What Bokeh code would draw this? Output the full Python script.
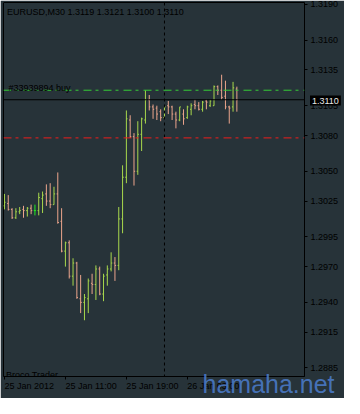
from bokeh.plotting import figure
from bokeh.models import (Range1d, FixedTicker, Span, Label, PrintfTickFormatter,
                          ColumnDataSource, InlineStyleSheet, Title)
from bokeh.embed import file_html
from bokeh.resources import INLINE

# ---------------- data ----------------
symbol = "EURUSD,M30"
ticket = "33939894"
broker = "Broco Trader"
watermark = "hamaha.net"

time_tick_index = [0, 16, 32, 48]
time_tick_labels = ["25 Jan 2012", "25 Jan 11:00", "25 Jan 19:00", "26 Jan 03:00"]
day_separator_index = 42  # 26 Jan 00:00

price_ticks = [1.3190, 1.3160, 1.3135, 1.3105, 1.3080, 1.3050,
               1.3025, 1.2995, 1.2970, 1.2940, 1.2915, 1.2885]

buy_price = 1.3118
stop_loss = 1.3078

opens = [1.3021, 1.3023, 1.3018, 1.3011, 1.3016, 1.3018, 1.3017, 1.3019, 1.3017, 1.3017,
         1.3027, 1.3031, 1.3025, 1.3022, 1.3031, 1.3008, 1.2983, 1.2990, 1.2962, 1.2973,
         1.2943, 1.2940, 1.2943, 1.2956, 1.2955, 1.2968, 1.2947, 1.2963, 1.2968, 1.2973,
         1.2971, 1.3010, 1.3045, 1.3093, 1.3079, 1.3050, 1.3081, 1.3093, 1.3110, 1.3104,
         1.3103, 1.3100, 1.3095, 1.3105, 1.3104, 1.3098, 1.3093, 1.3098, 1.3095, 1.3102,
         1.3106, 1.3105, 1.3102, 1.3109, 1.3105, 1.3105, 1.3121, 1.3118, 1.3113, 1.3104,
         1.3104, 1.3119]
highs = [1.3031, 1.3030, 1.3019, 1.3019, 1.3020, 1.3021, 1.3020, 1.3022, 1.3022, 1.3032,
         1.3033, 1.3039, 1.3040, 1.3037, 1.3049, 1.3019, 1.2991, 1.2992, 1.2977, 1.2974,
         1.2963, 1.2947, 1.2960, 1.2964, 1.2971, 1.2970, 1.2964, 1.2971, 1.2982, 1.2978,
         1.3020, 1.3055, 1.3101, 1.3097, 1.3082, 1.3092, 1.3095, 1.3118, 1.3114, 1.3106,
         1.3105, 1.3102, 1.3105, 1.3109, 1.3105, 1.3100, 1.3104, 1.3102, 1.3105, 1.3107,
         1.3110, 1.3108, 1.3109, 1.3110, 1.3110, 1.3122, 1.3122, 1.3131, 1.3126, 1.3105,
         1.3125, 1.3121]
lows = [1.3018, 1.3017, 1.3010, 1.3010, 1.3014, 1.3011, 1.3012, 1.3014, 1.3013, 1.3013,
        1.3015, 1.3021, 1.3019, 1.3022, 1.3006, 1.2982, 1.2970, 1.2960, 1.2954, 1.2943,
        1.2931, 1.2925, 1.2931, 1.2947, 1.2942, 1.2946, 1.2941, 1.2954, 1.2966, 1.2958,
        1.2967, 1.2998, 1.3040, 1.3078, 1.3038, 1.3047, 1.3067, 1.3090, 1.3101, 1.3094,
        1.3093, 1.3092, 1.3094, 1.3098, 1.3093, 1.3086, 1.3092, 1.3089, 1.3094, 1.3097,
        1.3102, 1.3101, 1.3100, 1.3102, 1.3104, 1.3105, 1.3114, 1.3110, 1.3102, 1.3090,
        1.3100, 1.3100]
closes = [1.3024, 1.3018, 1.3011, 1.3016, 1.3017, 1.3017, 1.3019, 1.3017, 1.3017, 1.3028,
          1.3030, 1.3025, 1.3022, 1.3031, 1.3007, 1.2983, 1.2990, 1.2962, 1.2973, 1.2944,
          1.2940, 1.2944, 1.2958, 1.2955, 1.2968, 1.2947, 1.2962, 1.2968, 1.2973, 1.2971,
          1.3010, 1.3045, 1.3094, 1.3079, 1.3050, 1.3081, 1.3094, 1.3110, 1.3104, 1.3102,
          1.3098, 1.3095, 1.3104, 1.3104, 1.3098, 1.3093, 1.3104, 1.3094, 1.3104, 1.3105,
          1.3105, 1.3102, 1.3108, 1.3108, 1.3109, 1.3121, 1.3118, 1.3112, 1.3104, 1.3103,
          1.3120, 1.3110]

# ---------------- styles ----------------
BG = "#273339"
UP = "#a8d84c"
DOWN = "#eca58c"
DOJI = "#22ee22"
FONT = "Liberation Sans"
FS = "9px"

idx = list(range(len(opens)))
colors = [UP if c > o else (DOWN if c < o else DOJI) for o, c in zip(opens, closes)]
tick_w = 0.3
src = ColumnDataSource(dict(
    x=idx, xl=[i - tick_w for i in idx], xr=[i + tick_w for i in idx],
    o=opens, h=highs, l=lows, c=closes, color=colors))

W, H = 344, 398
LB, RB, TB, BB = 3, 40, 2, 20
FW, FH = W - LB - RB, H - TB - BB
Y0, Y1 = 1.28778, 1.31916

p = figure(width=W, height=H, x_range=Range1d(-0.25, 78.75), y_range=Range1d(Y0, Y1),
           y_axis_location="right", output_backend="svg", toolbar_location=None,
           min_border_left=LB, min_border_right=RB, min_border_top=TB, min_border_bottom=BB,
           background_fill_color=BG, border_fill_color=BG,
           outline_line_color="black", outline_line_width=1)
p.stylesheets = [InlineStyleSheet(css="svg, svg * { shape-rendering: crispEdges; }")]
p.xgrid.visible = False
p.ygrid.visible = False

p.segment(x0="x", y0="l", x1="x", y1="h", line_color="color", line_width=1, source=src)
p.segment(x0="xl", y0="o", x1="x", y1="o", line_color="color", line_width=1, source=src)
p.segment(x0="x", y0="c", x1="xr", y1="c", line_color="color", line_width=1, source=src)

# axes
xa = p.xaxis[0]
xa.ticker = FixedTicker(ticks=time_tick_index)
xa.major_label_overrides = {t: s for t, s in zip(time_tick_index, time_tick_labels)}
xa.major_label_orientation = -0.0001   # labels start at their tick (MT4 style)
ya = p.yaxis[0]
ya.ticker = FixedTicker(ticks=price_ticks)
ya.formatter = PrintfTickFormatter(format="%.4f")
for ax in (xa, ya):
    ax.axis_line_color = "black"
    ax.major_tick_line_color = "black"
    ax.minor_tick_line_color = None
    ax.major_tick_out = 3
    ax.major_tick_in = 0
    ax.major_label_text_color = "black"
    ax.major_label_text_font = FONT
    ax.major_label_text_font_size = FS
xa.major_label_standoff = 6
ya.major_label_standoff = 3

# horizontal levels and day separator
p.add_layout(Span(location=day_separator_index, dimension="height", line_color="black",
                  line_dash="3 3", line_width=1))
p.add_layout(Span(location=buy_price, dimension="width", line_color="#35cc35",
                  line_dash="8 4 3 5", line_width=1))
p.add_layout(Span(location=stop_loss, dimension="width", line_color="#ee1c1c",
                  line_dash="8 4 3 5", line_width=1))
p.add_layout(Span(location=closes[-1], dimension="width", line_color="black", line_width=1))

# texts inside the chart
header = f"{symbol}  {opens[-1]:.4f} {highs[-1]:.4f} {lows[-1]:.4f} {closes[-1]:.4f}"
p.add_layout(Label(x=3.4, y=FH - 11.5, x_units="screen", y_units="screen", text=header,
                   text_font=FONT, text_font_size=FS, text_color="black",
                   text_baseline="alphabetic"))
p.add_layout(Label(x=5, y=buy_price, x_units="screen", y_units="data", y_offset=2.5,
                   text=f"#{ticket} buy", text_font=FONT, text_font_size=FS,
                   text_color="black", text_baseline="alphabetic"))
p.add_layout(Label(x=2.4, y=1.6, x_units="screen", y_units="screen", text=broker,
                   text_font=FONT, text_font_size=FS, text_color="black",
                   text_baseline="alphabetic"))

# current price box on the price scale (drawn as the plot title, moved down to its level)
bid_px = (Y1 - closes[-1]) / (Y1 - Y0) * FH          # pixels below the frame top
p.title.text = f"{closes[-1]:.4f}"
p.title.align = "left"
p.title.vertical_align = "bottom"
p.title.offset = FW + 5.5
p.title.standoff = int(round(-2 * (bid_px + 5.2)))
p.title.text_font = FONT
p.title.text_font_size = FS
p.title.text_font_style = "normal"
p.title.text_color = "#e8e8e8"
p.title.background_fill_color = "black"
p.title.padding = 2

# watermark under the price scale
wm = Title(text=watermark, align="left", vertical_align="top", offset=199, standoff=-58,
           text_font=FONT, text_font_size="25px", text_font_style="normal",
           text_color="#4a7ac8", text_alpha=0.9)
p.add_layout(wm, "below")

open("out.html", "w").write(file_html(p, INLINE))
